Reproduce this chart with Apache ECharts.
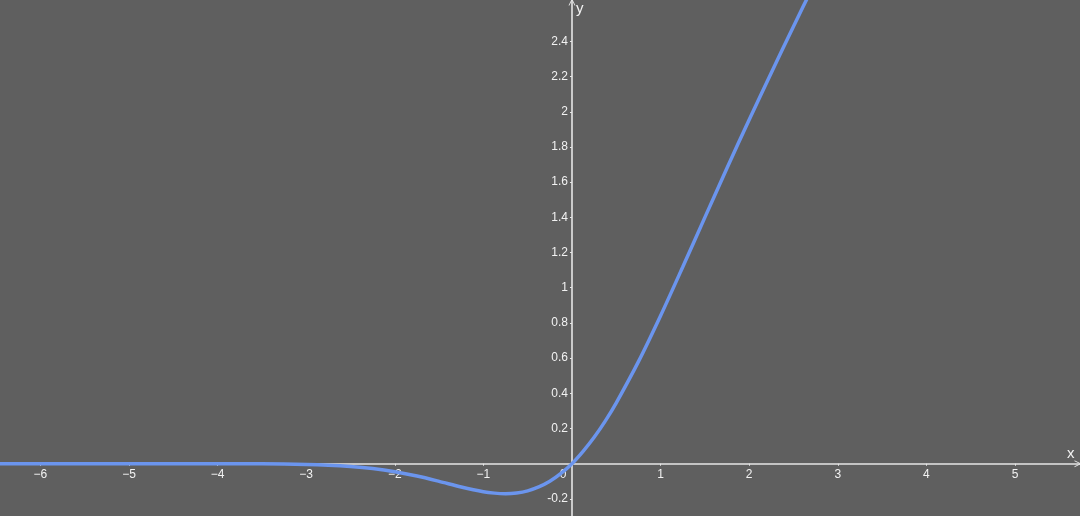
<!DOCTYPE html>
<html>
<head>
<meta charset="utf-8">
<script src="https://cdn.jsdelivr.net/npm/echarts@6/dist/echarts.min.js"></script>
<style>
html,body{margin:0;padding:0;background:#5f5f5f;}
#c{width:1080px;height:516px;}
</style>
</head>
<body>
<div id="c"></div>
<script>
// Curve points
const xs = [-6.5,-5,-4,-3.5,-3,-2.75,-2.5,-2.25,-2,-1.75,-1.5,-1.25,-1,-0.875,-0.75,-0.625,-0.5,-0.375,-0.25,-0.125,0,0.125,0.25,0.375,0.5,0.75,1,1.25,1.5,1.75,2,2.25,2.5,2.75];
const ys = [0,0,-0.0001,-0.0008,-0.004,-0.008,-0.0155,-0.0275,-0.0455,-0.070,-0.100,-0.132,-0.159,-0.167,-0.170,-0.166,-0.154,-0.132,-0.100,-0.055,0,0.070,0.150,0.242,0.346,0.580,0.841,1.118,1.400,1.680,1.955,2.222,2.485,2.742];
const xTicks = [-6,-5,-4,-3,-2,-1,0,1,2,3,4,5];
const yTicks = [-0.2,0.2,0.4,0.6,0.8,1,1.2,1.4,1.6,1.8,2,2.2,2.4];

const chart = echarts.init(document.getElementById('c'));
const axisColor = '#e6e6e6';
const labelColor = '#f2f2f2';
const chevron = 'path://M0,10 L5,0 L10,10 L8.6,10 L5,2.6 L1.4,10 Z';
const fmt = v => {
  if (v === 0) return '{z|0}';
  const s = (Math.round(v*10)/10).toString();
  return v < 0 ? '\u2212' + s.slice(1) : s;
};
chart.setOption({
  backgroundColor: '#5f5f5f',
  animation: false,
  grid: {left: 0, right: 0, top: 0, bottom: 0, containLabel: false, outerBoundsMode: 'none'},
  xAxis: {
    type: 'value', min: -6.456, max: 5.734, position: 'bottom', offset: 0,
    splitLine: {show: false},
    axisLine: {onZero: false, lineStyle: {color: axisColor, width: 1.6},
      symbol: ['none', chevron], symbolSize: [9, 7], symbolOffset: [0, -2]},
    axisTick: {show: true, customValues: xTicks, length: 2, inside: false, lineStyle: {color: axisColor}},
    axisLabel: {customValues: xTicks, color: labelColor, fontSize: 12, fontFamily: 'Helvetica, Arial, sans-serif',
      margin: 5, formatter: fmt,
      rich: {z: {color: labelColor, fontSize: 12, fontFamily: 'Helvetica, Arial, sans-serif', padding: [0, 18, 0, 0]}}},
    name: 'x', nameLocation: 'end', nameGap: -13,
    nameTextStyle: {color: labelColor, fontSize: 15, verticalAlign: 'bottom', padding: [0, 0, 2, 0]}
  },
  yAxis: {
    type: 'value', min: -0.297, max: 2.635, position: 'left', offset: 0,
    splitLine: {show: false},
    axisLine: {onZero: false, lineStyle: {color: axisColor, width: 1.6},
      symbol: ['none', chevron], symbolSize: [9, 7], symbolOffset: [0, -2]},
    axisTick: {show: true, customValues: yTicks, length: 2, lineStyle: {color: axisColor}},
    axisLabel: {customValues: yTicks, color: labelColor, fontSize: 12, fontFamily: 'Helvetica, Arial, sans-serif',
      margin: 4, formatter: v => v < 0 ? '-' + Math.abs(Math.round(v*10)/10) : String(Math.round(v*10)/10)},
    name: 'y', nameLocation: 'end', nameGap: -16,
    nameTextStyle: {color: labelColor, fontSize: 15, align: 'left', padding: [0, 0, 0, 4]}
  },
  series: [{
    type: 'line',
    data: xs.map((x, i) => [x, ys[i]]),
    smooth: 0.3,
    showSymbol: false,
    clip: true,
    lineStyle: {color: '#6b95ee', width: 3.5},
    z: 5
  }]
});
// Move the axes onto the zero lines using the library's own scales
const origin = chart.convertToPixel({gridIndex: 0}, [0, 0]);
chart.setOption({
  xAxis: {offset: -(516 - origin[1])},
  yAxis: {offset: -origin[0]}
});
</script>
</body>
</html>
